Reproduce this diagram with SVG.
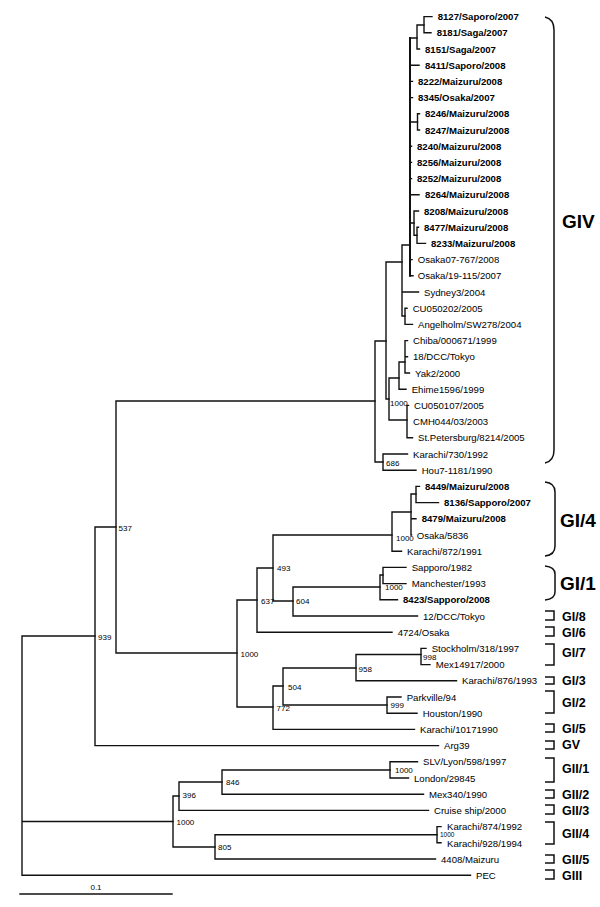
<svg xmlns="http://www.w3.org/2000/svg" width="600" height="907" viewBox="0 0 600 907">
<style>
.b{stroke:#111;stroke-width:1.4;fill:none;stroke-linecap:square}
.br{stroke:#111;stroke-width:1.5;fill:none}
text{font-family:"Liberation Sans",Arial,sans-serif;fill:#000}
.l{font-size:9.6px}
.lb{font-size:9.6px;font-weight:bold}
.n{font-size:8px}
.ns{font-size:6.5px}
.g{font-size:19px;font-weight:bold}
.gs{font-size:12.5px;font-weight:bold}
</style>
<rect width="600" height="907" fill="#fff"/>
<g id="connectors">
<path class="b" d="M22,636V875.2M22,636H95M22,821.5H173M22,875.2H470.5"/>
<path class="b" d="M95,527V745.6M95,527H116M95,745.6H438.5"/>
<path class="b" d="M116,401V653M116,401H375M116,653H237"/>
<path class="b" d="M375,341V462M375,341H386M375,462H383"/>
<path class="b" d="M383,454V470.2M383,454H407.5M383,470.2H416"/>
<path class="b" d="M386,262V399M386,262H402M386,399H389"/>
<path class="b" d="M402,245V316M402,245H410M402,292H418.5M402,316H405"/>
<path class="b" d="M405,308.2V324.4M405,308.2H407M405,324.4H412.5"/>
<path class="b" style="stroke-width:2" d="M410,38V275.8"/>
<path class="b" d="M410,38H417M410,65.2H419M410,81.4H412.5M410,97.6H412.5M410,122H417.5M410,146.2H411.5M410,162.4H411.5M410,178.6H411.5M410,194.8H419M410,223H414M410,259.6H412M410,275.8H413"/>
<path class="b" d="M417,25V49M417,25H424M417,49H419.5"/>
<path class="b" d="M424,16.6V32.8M424,16.6H432M424,32.8H431"/>
<path class="b" d="M417.5,113.8V130M417.5,113.8H419.5M417.5,130H419.5"/>
<path class="b" d="M414,211V235.3M414,211H418.5M414,235.3H417"/>
<path class="b" d="M417,227.2V243.4M417,227.2H418.5M417,243.4H425.5"/>
<path class="b" d="M389,378V420M389,378H399M389,420H407"/>
<path class="b" d="M399,362V389.2M399,362H405M399,389.2H406"/>
<path class="b" d="M405,340.6V373M405,340.6H407.5M405,356.8H407.5M405,373H409.5"/>
<path class="b" d="M407,405.4V437.8M407,405.4H408.5M407,437.8H412.5"/>
<path class="b" d="M237,600V707M237,600H257M237,707H273"/>
<path class="b" d="M257,568V632.2M257,568H273M257,632.2H392"/>
<path class="b" d="M273,535V601M273,535H392M273,601H293"/>
<path class="b" d="M392,512V551.2M392,512H411M392,551.2H401.5"/>
<path class="b" d="M411,494V535M411,494H416M411,518.8H416M411,535H411.5"/>
<path class="b" d="M416,486.4V502.6M416,486.4H419.5M416,502.6H438.5"/>
<path class="b" d="M293,587V616M293,587H380M293,616H417.5"/>
<path class="b" d="M380,575V599.8M380,575H383M380,599.8H397.5"/>
<path class="b" d="M383,567.4V583.6M383,567.4H406M383,583.6H406"/>
<path class="b" d="M273,686V729.4M273,686H283M273,729.4H414.5"/>
<path class="b" d="M283,668V705M283,668H356M283,705H387"/>
<path class="b" d="M356,654.5V680.8M356,654.5H421M356,680.8H456.5"/>
<path class="b" d="M421,648.4V664.6M421,648.4H426M421,664.6H430"/>
<path class="b" d="M387,697V713.2M387,697H401M387,713.2H417"/>
<path class="b" d="M173,796V847M173,796H179M173,847H215"/>
<path class="b" d="M179,782V810.4M179,782H222M179,810.4H428.5"/>
<path class="b" d="M222,770V794.2M222,770H390M222,794.2H423.5"/>
<path class="b" d="M390,761.8V778M390,761.8H417.5M390,778H408.5"/>
<path class="b" d="M215,834.7V859M215,834.7H437M215,859H435.5"/>
<path class="b" d="M437,826.6V842.8M437,826.6H441M437,842.8H441"/>
</g>
<g id="bootstrap">
<text class="n" x="98" y="639.5">939</text>
<text class="n" x="118.5" y="530.5">537</text>
<text class="n" x="240.5" y="657">1000</text>
<text class="n" x="261" y="604">637</text>
<text class="n" x="277" y="571">493</text>
<text class="n" x="296" y="604">604</text>
<text class="n" x="396" y="541">1000</text>
<text class="n" x="385" y="590">1000</text>
<text class="n" x="386" y="466">686</text>
<text class="n" x="390" y="406">1000</text>
<text class="n" x="358.5" y="672">958</text>
<text class="n" x="423" y="659.5">998</text>
<text class="n" x="288" y="690">504</text>
<text class="n" x="390.5" y="708">999</text>
<text class="n" x="276.5" y="711">772</text>
<text class="n" x="395" y="773">1000</text>
<text class="n" x="226" y="785">846</text>
<text class="n" x="182.5" y="798">396</text>
<text class="n" x="176.5" y="825">1000</text>
<text class="n" x="218" y="850">805</text>
<text class="ns" x="440" y="837">1000</text>
</g>
<g id="leaves">
<g id="n0"><text class="lb" x="437.7" y="20.1">8127/Saporo/2007</text></g>
<g id="n1"><text class="lb" x="436.7" y="36.3">8181/Saga/2007</text></g>
<g id="n2"><text class="lb" x="425" y="52.5">8151/Saga/2007</text></g>
<g id="n3"><text class="lb" x="425" y="68.7">8411/Saporo/2008</text></g>
<g id="n4"><text class="lb" x="418" y="84.9">8222/Maizuru/2008</text></g>
<g id="n5"><text class="lb" x="418" y="101.1">8345/Osaka/2007</text></g>
<g id="n6"><text class="lb" x="425" y="117.3">8246/Maizuru/2008</text></g>
<g id="n7"><text class="lb" x="425" y="133.5">8247/Maizuru/2008</text></g>
<g id="n8"><text class="lb" x="417" y="149.7">8240/Maizuru/2008</text></g>
<g id="n9"><text class="lb" x="417" y="165.9">8256/Maizuru/2008</text></g>
<g id="n10"><text class="lb" x="417" y="182.1">8252/Maizuru/2008</text></g>
<g id="n11"><text class="lb" x="425" y="198.3">8264/Maizuru/2008</text></g>
<g id="n12"><text class="lb" x="424" y="214.5">8208/Maizuru/2008</text></g>
<g id="n13"><text class="lb" x="424" y="230.7">8477/Maizuru/2008</text></g>
<g id="n14"><text class="lb" x="431" y="246.9">8233/Maizuru/2008</text></g>
<g id="n15"><text class="l" x="417.7" y="263.1">Osaka07-767/2008</text></g>
<g id="n16"><text class="l" x="417.7" y="279.3">Osaka/19-115/2007</text></g>
<g id="n17"><text class="l" x="424" y="295.5">Sydney3/2004</text></g>
<g id="n18"><text class="l" x="412.7" y="311.7">CU050202/2005</text></g>
<g id="n19"><text class="l" x="418" y="327.9">Angelholm/SW278/2004</text></g>
<g id="n20"><text class="l" x="413" y="344.1">Chiba/000671/1999</text></g>
<g id="n21"><text class="l" x="413" y="360.3">18/DCC/Tokyo</text></g>
<g id="n22"><text class="l" x="415" y="376.5">Yak2/2000</text></g>
<g id="n23"><text class="l" x="411.7" y="392.7">Ehime1596/1999</text></g>
<g id="n24"><text class="l" x="414" y="408.9">CU050107/2005</text></g>
<g id="n25"><text class="l" x="413" y="425.1">CMH044/03/2003</text></g>
<g id="n26"><text class="l" x="418" y="441.3">St.Petersburg/8214/2005</text></g>
<g id="n27"><text class="l" x="413" y="457.5">Karachi/730/1992</text></g>
<g id="n28"><text class="l" x="421.7" y="473.7">Hou7-1181/1990</text></g>
<g id="n29"><text class="lb" x="425" y="489.9">8449/Maizuru/2008</text></g>
<g id="n30"><text class="lb" x="444" y="506.1">8136/Sapporo/2007</text></g>
<g id="n31"><text class="lb" x="421.7" y="522.3">8479/Maizuru/2008</text></g>
<g id="n32"><text class="l" x="416.7" y="538.5">Osaka/5836</text></g>
<g id="n33"><text class="l" x="407" y="554.7">Karachi/872/1991</text></g>
<g id="n34"><text class="l" x="411.7" y="570.9">Sapporo/1982</text></g>
<g id="n35"><text class="l" x="411.7" y="587.1">Manchester/1993</text></g>
<g id="n36"><text class="lb" x="403" y="603.3">8423/Sapporo/2008</text></g>
<g id="n37"><text class="l" x="423" y="619.5">12/DCC/Tokyo</text></g>
<g id="n38"><text class="l" x="397.7" y="635.7">4724/Osaka</text></g>
<g id="n39"><text class="l" x="431.7" y="651.9">Stockholm/318/1997</text></g>
<g id="n40"><text class="l" x="435.7" y="668.1">Mex14917/2000</text></g>
<g id="n41"><text class="l" x="462" y="684.3">Karachi/876/1993</text></g>
<g id="n42"><text class="l" x="406.7" y="700.5">Parkville/94</text></g>
<g id="n43"><text class="l" x="422.7" y="716.7">Houston/1990</text></g>
<g id="n44"><text class="l" x="420" y="732.9">Karachi/10171990</text></g>
<g id="n45"><text class="l" x="444" y="749.1">Arg39</text></g>
<g id="n46"><text class="l" x="423" y="765.3">SLV/Lyon/598/1997</text></g>
<g id="n47"><text class="l" x="414" y="781.5">London/29845</text></g>
<g id="n48"><text class="l" x="429" y="797.7">Mex340/1990</text></g>
<g id="n49"><text class="l" x="434" y="813.9">Cruise ship/2000</text></g>
<g id="n50"><text class="l" x="447" y="829.6">Karachi/874/1992</text></g>
<g id="n51"><text class="l" x="447" y="847">Karachi/928/1994</text></g>
<g id="n52"><text class="l" x="441" y="862.5">4408/Maizuru</text></g>
<g id="n53"><text class="l" x="476" y="878.7">PEC</text></g>
</g>
<g id="groups">
<g id="g-GIV"><path class="br" d="M545,17Q554,19 554,30V450Q554,461 545,463"/><text class="g" x="562" y="228">GIV</text></g>
<g id="g-GI4"><path class="br" d="M545,482Q555,483 555,492V546Q555,555 545,556"/><text class="g" x="560" y="527">GI/4</text></g>
<g id="g-GI1"><path class="br" d="M545,566Q555,567 555,574V592Q555,599 545,600"/><text class="g" x="560" y="590">GI/1</text></g>
<g id="g-GI8"><path class="br" d="M545,611H554V620H545"/><text class="gs" x="562" y="620.5">GI/8</text></g>
<g id="g-GI6"><path class="br" d="M545,627H554V636H545"/><text class="gs" x="562" y="636.5">GI/6</text></g>
<g id="g-GI7"><path class="br" d="M545,644H554V665H545"/><text class="gs" x="562" y="656.5">GI/7</text></g>
<g id="g-GI3"><path class="br" d="M545,677H554V684H545"/><text class="gs" x="562" y="684.5">GI/3</text></g>
<g id="g-GI2"><path class="br" d="M545,691H554V713H545"/><text class="gs" x="562" y="707">GI/2</text></g>
<g id="g-GI5"><path class="br" d="M545,724H554V732H545"/><text class="gs" x="562" y="732.5">GI/5</text></g>
<g id="g-GV"><path class="br" d="M545,741H554V749H545"/><text class="gs" x="562" y="749">GV</text></g>
<g id="g-GII1"><path class="br" d="M545,758H554V782H545"/><text class="gs" x="562" y="772.5">GII/1</text></g>
<g id="g-GII2"><path class="br" d="M545,790H554V798H545"/><text class="gs" x="562" y="798.5">GII/2</text></g>
<g id="g-GII3"><path class="br" d="M545,805H554V814H545"/><text class="gs" x="562" y="814.5">GII/3</text></g>
<g id="g-GII4"><path class="br" d="M545,822H554V844H545"/><text class="gs" x="562" y="838">GII/4</text></g>
<g id="g-GII5"><path class="br" d="M545,855H554V863H545"/><text class="gs" x="562" y="863.5">GII/5</text></g>
<g id="g-GIII"><path class="br" d="M545,870H554V879H545"/><text class="gs" x="562" y="879.5">GIII</text></g>
</g>
<g id="scale">
<path class="b" d="M20,894H172"/>
<text class="n" x="96" y="890" text-anchor="middle">0.1</text>
</g>
</svg>
